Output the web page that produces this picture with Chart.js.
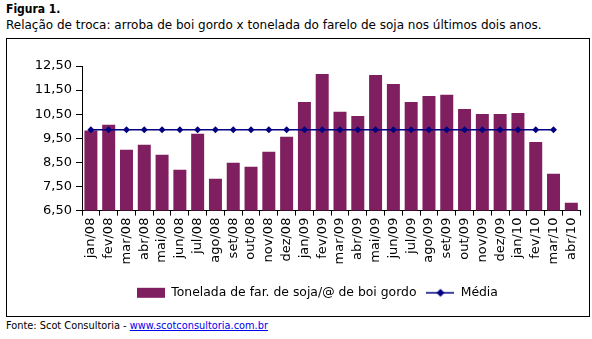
<!DOCTYPE html>
<html>
<head>
<meta charset="utf-8">
<script src="https://cdn.jsdelivr.net/npm/chart.js@4.4.0/dist/chart.umd.min.js"></script>
<style>
  body { margin: 0; background: #fff; width: 592px; height: 339px; position: relative; font-family: "DejaVu Sans", sans-serif; }
  .fig { position: absolute; left: 6px; top: 2px; font-family: "DejaVu Sans Condensed", "DejaVu Sans", sans-serif; font-size: 12px; font-weight: bold; color: #000; }
  .sub { position: absolute; left: 6px; top: 18px; font-size: 12px; color: #000; white-space: nowrap; }
  .box { position: absolute; left: 6px; top: 38px; width: 582px; height: 277px; border: 1px solid #000; }
  .src { position: absolute; left: 6px; top: 320px; font-size: 9.8px; color: #000; white-space: nowrap; }
  .src a { color: #0000ee; }
</style>
</head>
<body>
<div class="fig">Figura 1.</div>
<div class="sub">Relação de troca: arroba de boi gordo x tonelada do farelo de soja nos últimos dois anos.</div>
<div class="box"><canvas id="chart" width="582" height="277"></canvas></div>
<div class="src">Fonte: Scot Consultoria - <a href="#">www.scotconsultoria.com.br</a></div>
<script>
const months = ['jan/08','fev/08','mar/08','abr/08','mai/08','jun/08','jul/08','ago/08','set/08','out/08','nov/08','dez/08',
  'jan/09','fev/09','mar/09','abr/09','mai/09','jun/09','jul/09','ago/09','set/09','out/09','nov/09','dez/09',
  'jan/10','fev/10','mar/10','abr/10']
const tonelada = [9.82, 10.06, 9.02, 9.23, 8.82, 8.20, 9.69, 7.82, 8.49, 8.32, 8.94, 9.56,
  11.01, 12.17, 10.60, 10.43, 12.13, 11.75, 11.01, 11.26, 11.31, 10.72, 10.51, 10.51,
  10.55, 9.35, 8.03, 6.83]
const media = [9.85, 9.85, 9.85, 9.85, 9.85, 9.85, 9.85, 9.85, 9.85, 9.85, 9.85, 9.85,
  9.85, 9.85, 9.85, 9.85, 9.85, 9.85, 9.85, 9.85, 9.85, 9.85, 9.85, 9.85,
  9.85, 9.85, 9.85, null]
const yTicks = [6.5, 7.5, 8.5, 9.5, 10.5, 11.5, 12.5]

const barColor = '#7f1f5f'
const lineColor = '#000080'
const tickFont = {family: '"DejaVu Sans", sans-serif', size: 13}
const legendFont = {family: '"DejaVu Sans", sans-serif', size: 12.4}

// legend symbols, drawn like the spreadsheet ones
function swatch(kind) {
	const c = document.createElement('canvas')
	c.width = 28; c.height = 12
	const g = c.getContext('2d')
	if(kind == 'bar') {
		g.fillStyle = barColor
		g.fillRect(0, 1, 28, 10)
	} else {
		g.strokeStyle = lineColor
		g.lineWidth = 1.5
		g.beginPath(); g.moveTo(0, 6); g.lineTo(28, 6); g.stroke()
		g.fillStyle = lineColor
		g.beginPath(); g.moveTo(14, 2); g.lineTo(18, 6); g.lineTo(14, 10); g.lineTo(10, 6); g.closePath(); g.fill()
	}
	return c
}

// the legend in the original sits a bit right of the box centre
const shiftLegend = {
	id: 'shiftLegend',
	afterLayout(chart) {
		chart.legend.left += 22
		chart.legend.right += 22
	}
}

new Chart(document.getElementById('chart'), {
	data: {
		labels: months,
		datasets: [
			{type: 'line', label: 'Média', data: media, borderColor: lineColor, backgroundColor: lineColor,
				borderWidth: 1.5, pointStyle: 'rectRot', pointRadius: 3.5, pointBorderWidth: 0, order: 0},
			{type: 'bar', label: 'Tonelada de far. de soja/@ de boi gordo', data: tonelada, backgroundColor: barColor,
				barPercentage: 0.73, categoryPercentage: 1, order: 1}
		]
	},
	plugins: [shiftLegend],
	options: {
		responsive: false,
		animation: false,
		layout: {padding: {top: 27, right: 5, left: 0, bottom: 7}},
		plugins: {
			tooltip: {enabled: false},
			legend: {
				position: 'bottom',
				reverse: true,
				labels: {
					color: '#000', font: legendFont, usePointStyle: true, pointStyleWidth: 28, boxHeight: 12, padding: 10,
					generateLabels: chart => chart.data.datasets.map((ds, i) => ({
						text: ds.label, datasetIndex: i, fontColor: '#000',
						pointStyle: swatch(ds.type), lineWidth: 0, strokeStyle: 'transparent', fillStyle: 'transparent'
					}))
				}
			}
		},
		scales: {
			x: {
				grid: {display: true, offset: true, drawOnChartArea: false, color: '#000', tickLength: 5},
				border: {color: '#000', width: 1},
				ticks: {color: '#000', font: tickFont, minRotation: 90, maxRotation: 90, autoSkip: false, padding: 2},
				afterFit: s => { s.height = 66 }
			},
			y: {
				min: 6.5, max: 12.5,
				afterBuildTicks: s => { s.ticks = yTicks.map(v => ({value: v})) },
				grid: {display: true, drawOnChartArea: false, color: '#000', tickLength: 6},
				border: {color: '#000', width: 1},
				ticks: {color: '#000', font: tickFont, padding: 4, callback: v => v.toFixed(2).replace('.', ',')},
				afterFit: s => { s.width = 75 }
			}
		}
	}
})
</script>
</body>
</html>
